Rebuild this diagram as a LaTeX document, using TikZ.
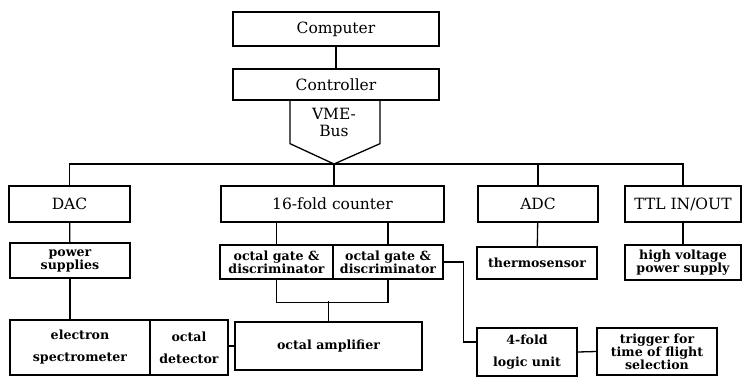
\documentclass[tikz,border=0pt]{standalone}
\usepackage{fontspec}
\setmainfont{DejaVu Serif}
\usetikzlibrary{calc}

\begin{document}
\begin{tikzpicture}[x=1pt,y=-1pt,line width=1.3pt,
		unit/.style={draw,inner sep=0pt,align=center,font=\fontsize{15.5}{17}\selectfont},
		part/.style={draw,inner sep=0pt,align=center,font=\fontsize{12.6}{13}\selectfont\bfseries},
		wide/.style={part,font=\fontsize{12.6}{22}\selectfont\bfseries}]
				\useasboundingbox (0,0) rectangle (742,376);
				% computer, controller and the VME bus
				\node[unit,minimum width=206,minimum height=34] (computer) at (336,29) {Computer};
				\node[unit,minimum width=206,minimum height=31] (controller) at (336,84.5) {Controller};
				\coordinate (bus) at (334,164);
				\node[unit,draw=none] (vme) at (334,122) {VME-\\Bus};
				\draw (computer) -- (controller);
				\draw ([xshift=-46pt]controller.south) -- ++(0,43) -- (bus) -- ($(controller.south)+(44,43)$) -- ([xshift=44pt]controller.south);
				% modules on the bus
				\node[unit,minimum width=121,minimum height=36] (dac) at (69.5,204) {DAC};
				\node[unit,minimum width=223,minimum height=36] (counter) at (332.5,204) {16-fold counter};
				\node[unit,minimum width=120,minimum height=36] (adc) at (538,204) {ADC};
				\node[unit,minimum width=116,minimum height=36] (ttl) at (683,204) {TTL IN/OUT};
				\draw (dac.north) |- (bus) -| (ttl.north);
				\draw (adc.north) -- (adc.north |- bus);
				\draw (bus) -- (bus |- counter.north);
				% second row
				\node[part,minimum width=120,minimum height=35] (power) at (70,260.5) {power\\supplies};
				\node[part,minimum width=113,minimum height=34] (gatea) at (276.5,262) {octal gate \&\\discriminator};
				\node[part,minimum width=110,minimum height=34] (gateb) at (388,262) {octal gate \&\\discriminator};
				\node[part,minimum width=120,minimum height=32] (thermo) at (537,263) {thermosensor};
				\node[part,minimum width=116,minimum height=35] (hv) at (683,262.5) {high voltage\\power supply};
				\draw (dac) -- (power);
				\draw (adc) -- (thermo);
				\draw (ttl) -- (hv);
				\draw (gatea.north) -- (gatea.north |- counter.south);
				\draw (gateb.north) -- (gateb.north |- counter.south);
				% bottom row
				\node[wide,minimum width=140,minimum height=55] (spectro) at (80,347.5) {electron\\spectrometer};
				\node[wide,minimum width=78,minimum height=55] (detector) at (189,347.5) {octal\\detector};
				\node[part,minimum width=187,minimum height=48] (amp) at (328.5,346) {octal amplifier};
				\node[wide,minimum width=100,minimum height=48] (logic) at (527,352) {4-fold\\logic unit};
				\node[part,minimum width=120,minimum height=47] (trigger) at (657,351.5) {trigger for\\time of flight\\selection};
				\draw (power.south) -- (power.south |- spectro.north);
				\draw (gatea.south) -- ++(0,23) -| (gateb.south);
				\draw (amp.north) -- ++(0,-20);
				\draw (amp.west) -- (amp.west -| detector.east);
				\draw (gateb.east) -- ++(20,0) |- ($(logic.west)+(0,-10)$);
				\draw (logic.east) -- (trigger.west);
			\end{tikzpicture}
\end{document}
